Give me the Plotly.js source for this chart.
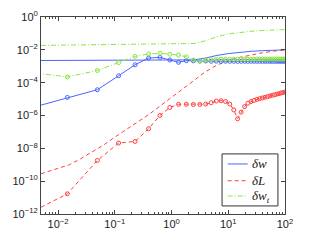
<!DOCTYPE html>
<html>
<head>
<meta charset="utf-8">
<script src="https://cdn.plot.ly/plotly-3.0.1.min.js"></script>
<style>html,body{margin:0;padding:0;background:#fff;}#chart{width:315px;height:242px;}</style>
</head>
<body>
<div id="chart"></div>
<script>
// x samples of the smooth (no-marker) curves
var xLine = [0.005, 0.01, 0.0158, 0.0251, 0.0398, 0.0631, 0.1, 0.158, 0.251, 0.398, 0.631, 1, 1.585, 2.512, 3.981, 6.31, 10, 15.85, 25.12, 39.81, 63.1, 100];
var dwLine  = [2.24e-3, 2.24e-3, 2.24e-3, 2.24e-3, 2.24e-3, 2.24e-3, 2.24e-3, 2.24e-3, 2.24e-3, 2.24e-3, 2.24e-3, 2.24e-3, 2.26e-3, 2.45e-3, 3.16e-3, 4.57e-3, 5.89e-3, 7.08e-3, 8.13e-3, 8.91e-3, 9.55e-3, 1.0e-2];
var dLLine  = [2.82e-10, 6.03e-10, 1.0e-9, 2.34e-9, 5.75e-9, 1.58e-8, 4.79e-8, 1.38e-7, 3.98e-7, 1.15e-6, 3.8e-6, 1.26e-5, 4.47e-5, 1.51e-4, 4.68e-4, 1.17e-3, 2.24e-3, 3.47e-3, 4.9e-3, 6.61e-3, 8.32e-3, 1.0e-2];
var dwtLine = [1.86e-2, 1.91e-2, 1.93e-2, 1.95e-2, 2.0e-2, 2.0e-2, 2.04e-2, 2.09e-2, 2.14e-2, 2.19e-2, 2.24e-2, 2.29e-2, 2.34e-2, 2.45e-2, 3.55e-2, 6.31e-2, 9.33e-2, 0.1175, 0.135, 0.151, 0.162, 0.17];

// x samples of the marker curves
var xMk = [0.001823, 0.01458, 0.04921, 0.1166, 0.2278, 0.3937, 0.6251, 0.9332, 1.329, 1.823, 2.426, 3.149, 4.004, 5.001, 6.151, 7.465, 8.954, 10.63, 12.50, 14.58, 16.88, 19.41, 22.18, 25.20, 28.48, 32.03, 35.87, 40.01, 44.45, 49.21, 54.30, 59.72, 65.50, 71.63, 78.14, 85.03, 92.31, 100.0];
var dwMk  = [1.66e-6, 1.26e-5, 3.72e-5, 2.63e-4, 1.23e-3, 3.16e-3, 3.47e-3, 2.40e-3, 1.74e-3, 2.19e-3, 2.12e-3, 2.05e-3, 2.08e-3, 2.0e-3, 2.03e-3, 1.98e-3, 2.02e-3, 1.99e-3, 2.01e-3, 1.98e-3, 2.0e-3, 2.0e-3, 2.0e-3, 2.0e-3, 2.0e-3, 2.0e-3, 2.0e-3, 2.0e-3, 2.0e-3, 2.0e-3, 2.0e-3, 2.0e-3, 2.0e-3, 2.0e-3, 2.0e-3, 2.0e-3, 2.0e-3, 2.0e-3];
var dLMk  = [4.4e-13, 1.7e-11, 1.82e-9, 2.1e-8, 2.63e-8, 1.55e-7, 1.0e-6, 3.1e-6, 4.8e-6, 4.8e-6, 4.7e-6, 4.7e-6, 5.0e-6, 6.0e-6, 7.6e-6, 7.9e-6, 7.1e-6, 5.0e-6, 2.2e-6, 6.3e-7, 1.6e-6, 3.5e-6, 5.6e-6, 7.1e-6, 8.3e-6, 9.5e-6, 1.07e-5, 1.17e-5, 1.29e-5, 1.41e-5, 1.55e-5, 1.70e-5, 1.82e-5, 2.0e-5, 2.14e-5, 2.34e-5, 2.51e-5, 2.69e-5];
var dwtMk = [5.37e-4, 2.24e-4, 5.5e-4, 1.66e-3, 3.98e-3, 5.62e-3, 6.17e-3, 5.37e-3, 4.79e-3, 3.8e-3, 2.4e-3, 2.09e-3, 2.34e-3, 2.51e-3, 2.63e-3, 2.66e-3, 2.69e-3, 2.69e-3, 2.69e-3, 2.69e-3, 2.7e-3, 2.7e-3, 2.7e-3, 2.72e-3, 2.72e-3, 2.72e-3, 2.73e-3, 2.73e-3, 2.74e-3, 2.74e-3, 2.74e-3, 2.75e-3, 2.75e-3, 2.75e-3, 2.75e-3, 2.75e-3, 2.75e-3, 2.75e-3];

var legendNames = ['<i>δw</i>', '<i>δL</i>', '<i>δw</i><sub><i>t</i></sub>'];
var xTickVals = [0.01, 0.1, 1, 10, 100];
var xTickText = ['10<sup>−2</sup>', '10<sup>−1</sup>', '10<sup>0</sup>', '10<sup>1</sup>', '10<sup>2</sup>'];
var yTickVals = [1e-12, 1e-10, 1e-8, 1e-6, 1e-4, 1e-2, 1];
var yTickText = ['10<sup>−12</sup>', '10<sup>−10</sup>', '10<sup>−8</sup>', '10<sup>−6</sup>', '10<sup>−4</sup>', '10<sup>−2</sup>', '10<sup>0</sup>'];

var BLUE = '#4a66ff', RED = '#ff4040', GREEN = '#88e840';
var COLORS = [BLUE, RED, GREEN];
var DASH = '4px,3px', DASHDOT = '5px,2px,1px,2px';
var DASHES = ['solid', DASH, DASHDOT];

var minorX = [];
for (var e = -3; e <= 1; e++) for (var m = 2; m <= 9; m++) { var v = m * Math.pow(10, e); if (v > 0.005 && v < 100) minorX.push(v); }

var mk = function (c) { return {symbol: 'circle-open', size: 4, color: c, line: {width: 1, color: c}}; };

var traces = [
  {x: xLine, y: dwLine, mode: 'lines', name: legendNames[0], line: {color: BLUE, width: 1}},
  {x: xLine, y: dLLine, mode: 'lines', name: legendNames[1], line: {color: RED, width: 1, dash: DASH}},
  {x: xLine, y: dwtLine, mode: 'lines', name: legendNames[2], line: {color: GREEN, width: 1, dash: DASHDOT}},
  {x: xMk, y: dwMk, mode: 'lines+markers', line: {color: BLUE, width: 1}, marker: mk(BLUE)},
  {x: xMk, y: dLMk, mode: 'lines+markers', line: {color: RED, width: 1, dash: DASH}, marker: mk(RED)},
  {x: xMk, y: dwtMk, mode: 'lines+markers', line: {color: GREEN, width: 1, dash: DASHDOT}, marker: mk(GREEN)}
];

var axisCommon = {
  showline: true, linecolor: '#444', linewidth: 1, mirror: 'ticks',
  ticks: 'inside', ticklen: 4, tickcolor: '#444', showgrid: false, zeroline: false,
  tickfont: {family: 'Liberation Sans, Arial, sans-serif', size: 11, color: '#222'}
};

// legend box drawn in paper coordinates (inside the plot area, lower right)
var LBX0 = 0.742, LBX1 = 0.971, LBY0 = 0.041, LBY1 = 0.305;
var LSX0 = 0.765, LSX1 = 0.847, LTX = 0.855;
var LROWS = [0.254, 0.169, 0.091];

var shapes = [{type: 'rect', xref: 'paper', yref: 'paper', x0: LBX0, x1: LBX1, y0: LBY0, y1: LBY1,
  line: {color: '#333', width: 1}, fillcolor: '#fff', layer: 'above'}];
var annotations = [];
for (var i = 0; i < 3; i++) {
  shapes.push({type: 'line', xref: 'paper', yref: 'paper', x0: LSX0, x1: LSX1, y0: LROWS[i], y1: LROWS[i],
    line: {color: COLORS[i], width: 1, dash: DASHES[i]}, layer: 'above'});
  annotations.push({xref: 'paper', yref: 'paper', x: LTX, y: LROWS[i], xanchor: 'left', yanchor: 'middle',
    text: legendNames[i], showarrow: false,
    font: {family: 'Liberation Serif, DejaVu Serif, serif', size: 13, color: '#222'}});
}

var layout = {
  width: 315, height: 242,
  margin: {l: 41, r: 30, t: 17, b: 28},
  paper_bgcolor: '#fff', plot_bgcolor: '#fff',
  showlegend: false,
  xaxis: Object.assign({}, axisCommon, {
    type: 'log', range: [Math.log10(0.005), 2],
    tickmode: 'array', tickvals: xTickVals, ticktext: xTickText,
    minor: {tickmode: 'array', tickvals: minorX, ticks: 'inside', ticklen: 2, tickcolor: '#444', showgrid: false}
  }),
  yaxis: Object.assign({}, axisCommon, {
    type: 'log', range: [-12, 0],
    tickmode: 'array', tickvals: yTickVals, ticktext: yTickText
  }),
  shapes: shapes,
  annotations: annotations
};

Plotly.newPlot('chart', traces, layout, {staticPlot: true, displayModeBar: false});
</script>
</body>
</html>
